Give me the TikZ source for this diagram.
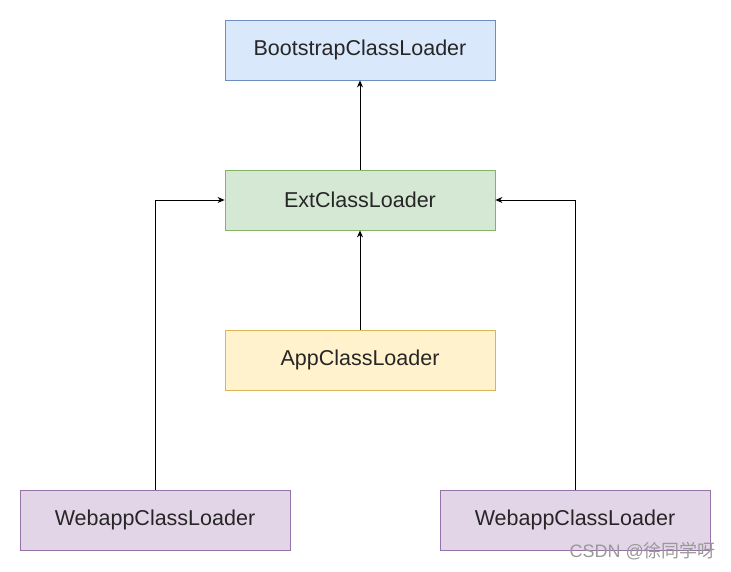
\documentclass[tikz,border=0pt]{standalone}
\usepackage{fontspec}
\setmainfont{Liberation Sans}
\newfontfamily\cjk{Noto Sans CJK SC}
\usetikzlibrary{arrows.meta}
\definecolor{bfill}{HTML}{DAE8FC}\definecolor{bdraw}{HTML}{6C8EBF}
\definecolor{gfill}{HTML}{D5E8D4}\definecolor{gdraw}{HTML}{82B366}
\definecolor{yfill}{HTML}{FFF2CC}\definecolor{ydraw}{HTML}{D6B656}
\definecolor{pfill}{HTML}{E1D5E7}\definecolor{pdraw}{HTML}{9673A6}
\tikzset{
  box/.style={draw, line width=0.8pt, minimum width=270pt, minimum height=60pt, inner sep=0pt, anchor=center, font=\fontsize{21.5}{24}\selectfont, text=black!85},
  conn/.style={line width=0.9pt, -{Stealth[length=7pt,width=6pt]}}
}
\begin{document}
\begin{tikzpicture}[x=1pt,y=-1pt]
\useasboundingbox (0,0) rectangle (731,571);
\node[box, fill=bfill, draw=bdraw] (boot) at (360,50) {BootstrapClassLoader};
\node[box, fill=gfill, draw=gdraw] (ext) at (360,200) {ExtClassLoader};
\node[box, fill=yfill, draw=ydraw] (app) at (360,360) {AppClassLoader};
\node[box, fill=pfill, draw=pdraw] (wl) at (155,520) {WebappClassLoader};
\node[box, fill=pfill, draw=pdraw] (wr) at (575,520) {WebappClassLoader};
\draw[conn] (ext.north) -- (boot.south);
\draw[conn] (app.north) -- (ext.south);
\draw[conn] (wl.north) |- (ext.west);
\draw[conn] (wr.north) |- (ext.east);
\node[font=\fontsize{18}{20}\selectfont, text=black!40, anchor=east, inner sep=0pt] (wm) at (716,551) {CSDN @{\cjk 徐同学呀}};
\end{tikzpicture}
\end{document}
